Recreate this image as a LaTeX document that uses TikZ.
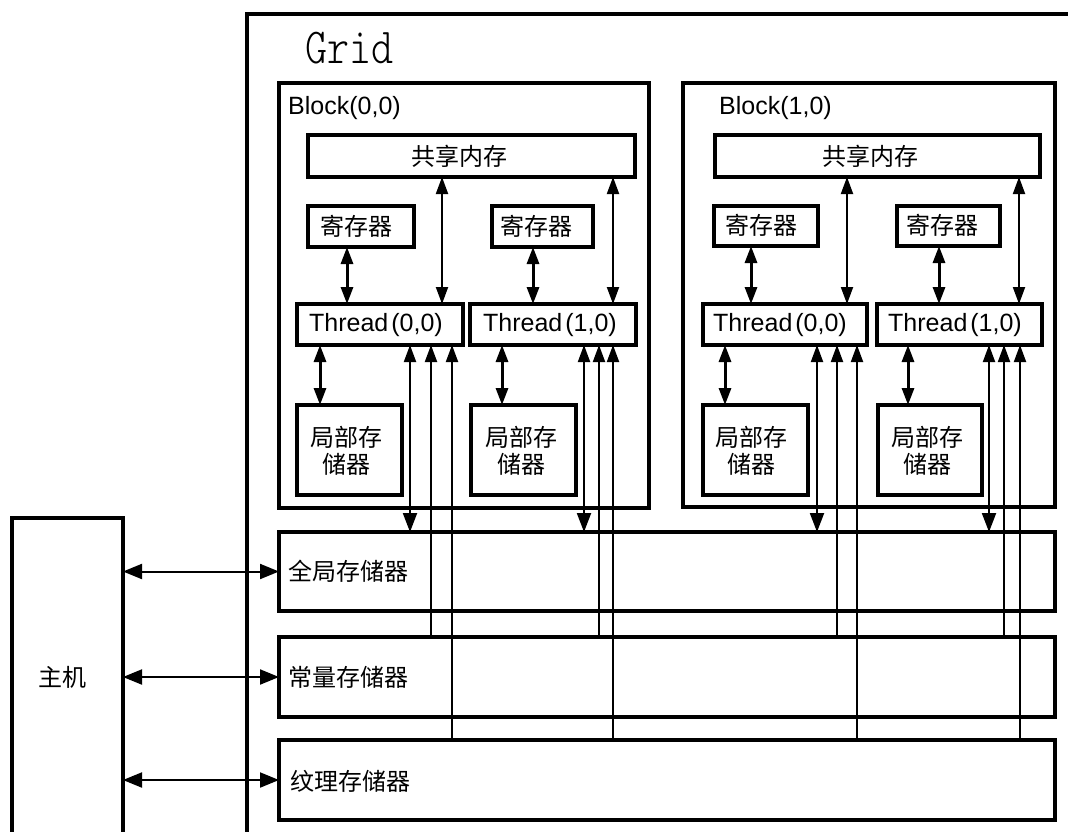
\documentclass[tikz,border=0pt]{standalone}
\usepackage{fontspec}
\setmainfont{Liberation Sans}
\newfontfamily\cjk{Noto Sans CJK SC}
\newfontfamily\gridfont{Latin Modern Mono Light}
\usetikzlibrary{arrows.meta}
\begin{document}
\begin{tikzpicture}[x=1pt,y=-1pt,
  box/.style={draw, line width=3.2pt, inner sep=0pt, outer sep=0pt, anchor=north west},
  thin/.style={line width=2pt},
  thk/.style={line width=3pt},
  dbl/.style={{Triangle[length=17pt,width=12pt]}-{Triangle[length=17pt,width=12pt]}},
  dblb/.style={{Triangle[length=17pt,width=12pt]}-{Triangle[length=19pt,width=14pt]}},
  hdbl/.style={{Triangle[length=19pt,width=15pt]}-{Triangle[length=19pt,width=15pt]}},
  up/.style={-{Triangle[length=17pt,width=12pt]}},
  cj/.style={font=\cjk\fontsize{24}{27}\selectfont, inner sep=0pt, align=center},
  lat/.style={font=\fontsize{25}{30}\selectfont, inner sep=0pt},
]
\useasboundingbox (0,0) rectangle (1068,831);
\clip (0,0) rectangle (1068,831);

% grid
\node[box, minimum width=900, minimum height=900] (grid) at (247,14) {};
\node[font=\gridfont\fontsize{42}{42}\selectfont, anchor=west, inner sep=0pt] (gridlbl) at (305,48) {\scalebox{1}[1.2]{Grid}};

% blocks
\node[box, minimum width=370, minimum height=425] (b0) at (279,83) {};
\node[box, minimum width=372, minimum height=424] (b1) at (683,83) {};
\node[lat, anchor=west] (b0lbl) at (288,108) {Block(0,0)};
\node[lat, anchor=west] (b1lbl) at (719,108) {Block(1,0)};

% shared memory
\node[box, minimum width=327, minimum height=42] (sm0) at (308,135) {};
\node[box, minimum width=325, minimum height=42] (sm1) at (715,135) {};
\node[cj] (sm0t) at (459,156) {共享内存};
\node[cj] (sm1t) at (870,156) {共享内存};

% registers
\node[box, minimum width=106, minimum height=41] (r00) at (308,206) {};
\node[box, minimum width=101, minimum height=41] (r01) at (492,206) {};
\node[box, minimum width=104, minimum height=40] (r10) at (714,206) {};
\node[box, minimum width=103, minimum height=40] (r11) at (897,206) {};
\node[cj] (r00t) at (356,226) {寄存器};
\node[cj] (r01t) at (536,226) {寄存器};
\node[cj] (r10t) at (761,225) {寄存器};
\node[cj] (r11t) at (942,225) {寄存器};

% threads
\node[box, minimum width=166, minimum height=41] (t00) at (297,304) {};
\node[box, minimum width=166, minimum height=41] (t01) at (470,304) {};
\node[box, minimum width=164, minimum height=41] (t10) at (703,304) {};
\node[box, minimum width=165, minimum height=41] (t11) at (877,304) {};
\node[lat] (t00t) at (376,325) {Thread\kern3pt(0,0)};
\node[lat] (t01t) at (550,325) {Thread\kern3pt(1,0)};
\node[lat] (t10t) at (780,325) {Thread\kern3pt(0,0)};
\node[lat] (t11t) at (955,325) {Thread\kern3pt(1,0)};

% local memory
\node[box, minimum width=105, minimum height=90] (l00) at (297,405) {};
\node[box, minimum width=105, minimum height=90] (l01) at (471,405) {};
\node[box, minimum width=105, minimum height=90] (l10) at (703,405) {};
\node[box, minimum width=104, minimum height=90] (l11) at (878,405) {};
\node[cj] (l00t) at (346,451) {局部存\\储器};
\node[cj] (l01t) at (521,451) {局部存\\储器};
\node[cj] (l10t) at (751,451) {局部存\\储器};
\node[cj] (l11t) at (927,451) {局部存\\储器};

% device memories
\node[box, minimum width=776, minimum height=79] (gm) at (279,532) {};
\node[box, minimum width=776, minimum height=80] (cm) at (279,637) {};
\node[box, minimum width=776, minimum height=80] (tm) at (279,740) {};
\node[cj, anchor=west] (gmt) at (288,571) {全局存储器};
\node[cj, anchor=west] (cmt) at (288,677) {常量存储器};
\node[cj, anchor=west] (tmt) at (290,781) {纹理存储器};

% host
\node[box, minimum width=111, minimum height=400] (host) at (12,518) {};
\node[cj] (hostt) at (62,677) {主机};

% x positions
\foreach \x in {320,347,410,431,442,452,502,533,584,599,613,725,751,817,837,847,857,908,939,989,1004,1019,1020}
  \coordinate (c\x) at (\x,0);

% register <-> thread
\draw[thk,dbl] (r00.south -| c347) -- (t00.north -| c347);
\draw[thk,dbl] (r01.south -| c533) -- (t01.north -| c533);
\draw[thk,dbl] (r10.south -| c751) -- (t10.north -| c751);
\draw[thk,dbl] (r11.south -| c939) -- (t11.north -| c939);

% shared <-> thread
\draw[thin,dbl] (sm0.south -| c442) -- (t00.north -| c442);
\draw[thin,dbl] (sm0.south -| c613) -- (t01.north -| c613);
\draw[thin,dbl] (sm1.south -| c847) -- (t10.north -| c847);
\draw[thin,dbl] (sm1.south -| c1019) -- (t11.north -| c1019);

% thread <-> local
\draw[thk,dbl] (t00.south -| c320) -- (l00.north -| c320);
\draw[thk,dbl] (t01.south -| c502) -- (l01.north -| c502);
\draw[thk,dbl] (t10.south -| c725) -- (l10.north -| c725);
\draw[thk,dbl] (t11.south -| c908) -- (l11.north -| c908);

% thread <-> global / constant / texture
\draw[thin,dblb] (t00.south -| c410) -- (gm.north -| c410);
\draw[thin,up] (cm.north -| c431) -- (t00.south -| c431);
\draw[thin,up] (tm.north -| c452) -- (t00.south -| c452);
\draw[thin,dblb] (t01.south -| c584) -- (gm.north -| c584);
\draw[thin,up] (cm.north -| c599) -- (t01.south -| c599);
\draw[thin,up] (tm.north -| c613) -- (t01.south -| c613);
\draw[thin,dblb] (t10.south -| c817) -- (gm.north -| c817);
\draw[thin,up] (cm.north -| c837) -- (t10.south -| c837);
\draw[thin,up] (tm.north -| c857) -- (t10.south -| c857);
\draw[thin,dblb] (t11.south -| c989) -- (gm.north -| c989);
\draw[thin,up] (cm.north -| c1004) -- (t11.south -| c1004);
\draw[thin,up] (tm.north -| c1020) -- (t11.south -| c1020);

% host <-> memories
\draw[thin,hdbl] (host.east |- gm.west) -- (gm.west);
\draw[thin,hdbl] (host.east |- cm.west) -- (cm.west);
\draw[thin,hdbl] (host.east |- tm.west) -- (tm.west);
\end{tikzpicture}
\end{document}
